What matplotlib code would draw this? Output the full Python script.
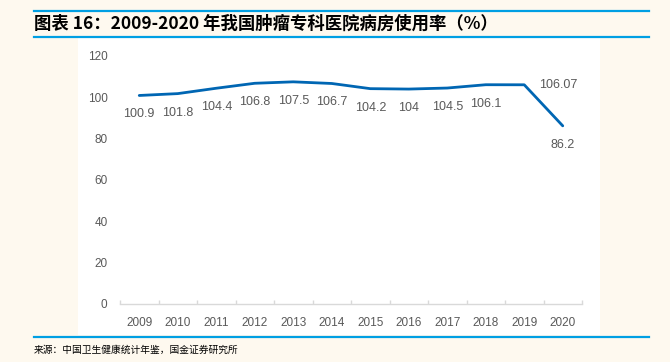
"""
2009-2020 tumour specialty hospital bed usage rate chart.
"""
import matplotlib
matplotlib.use('Agg')
import matplotlib.pyplot as plt
from matplotlib.patches import Rectangle
from matplotlib.lines import Line2D

plt.rcParams['font.family'] = ['Liberation Sans', 'Noto Sans CJK SC', 'DejaVu Sans']

years = ['2009', '2010', '2011', '2012', '2013', '2014',
         '2015', '2016', '2017', '2018', '2019', '2020']
usage = [100.9, 101.8, 104.4, 106.8, 107.5, 106.7,
         104.2, 104, 104.5, 106.1, 106.07, 86.2]
value_labels = ['100.9', '101.8', '104.4', '106.8', '107.5', '106.7',
                '104.2', '104', '104.5', '106.1', '106.07', '86.2']
y_ticks = [0, 20, 40, 60, 80, 100, 120]

title = '图表 16：2009-2020 年我国肿瘤专科医院病房使用率（%）'
source = '来源：中国卫生健康统计年鉴，国金证券研究所'

bg = '#FEF9EF'
blue_rule = '#009FE3'
line_color = '#0066B3'
text_gray = '#595959'

fig = plt.figure(figsize=(6.7, 3.62), dpi=100, facecolor=bg)

# white plot panel, kept behind the axes
fig.patches.append(Rectangle((78 / 670, 1 - 335 / 362), (600 - 78) / 670, (335 - 38) / 362,
                             transform=fig.transFigure, facecolor='white', edgecolor='none', zorder=-5))

# blue rules
for y in (11, 37, 337):
    fig.lines.append(Line2D([34 / 670, 649 / 670], [1 - y / 362, 1 - y / 362],
                            transform=fig.transFigure, color=blue_rule, linewidth=1.6))

fig.text(34 / 670, 1 - 24 / 362, title, fontsize=12.5, fontweight='bold', va='center', ha='left',
         family=['Noto Sans CJK SC', 'DejaVu Sans'], color='black')
fig.text(34 / 670, 1 - 350 / 362, source, fontsize=7, va='center', ha='left',
         family=['Noto Sans CJK SC', 'DejaVu Sans'], color='black')

ax = fig.add_axes([120 / 670, 1 - 304 / 362, 462 / 670, 248 / 362])
ax.set_zorder(2)
ax.set_facecolor('none')
x = list(range(len(years)))
ax.plot(x, usage, color=line_color, linewidth=2, solid_capstyle='round', zorder=3)

for i, (v, lab) in enumerate(zip(usage, value_labels)):
    if i == 10:
        ax.annotate(lab, (i, v), xytext=(34, 0), textcoords='offset pixels',
                    ha='center', va='center', fontsize=9, color=text_gray)
    else:
        ax.annotate(lab, (i, v), xytext=(0, -19), textcoords='offset pixels',
                    ha='center', va='center', fontsize=9, color=text_gray)

ax.set_xlim(-0.5, len(years) - 0.5)
ax.set_ylim(0, 120)
ax.set_yticks(y_ticks)
ax.set_yticklabels([str(t) for t in y_ticks])
ax.set_xticks(x)
ax.set_xticklabels(years)
ax.set_xticks([i - 0.5 for i in range(len(years) + 1)], minor=True)

for side in ('left', 'right', 'top'):
    ax.spines[side].set_visible(False)
ax.spines['bottom'].set_color('#D9D9D9')
ax.spines['bottom'].set_linewidth(1)

ax.tick_params(axis='y', length=0, pad=9, labelsize=8.5, labelcolor=text_gray)
ax.tick_params(axis='x', which='major', length=0, pad=9, labelsize=8.5, labelcolor=text_gray)
ax.tick_params(axis='x', which='minor', direction='in', length=3, color='#D9D9D9', width=1)

fig.savefig('out.png', dpi=100, facecolor=bg)
